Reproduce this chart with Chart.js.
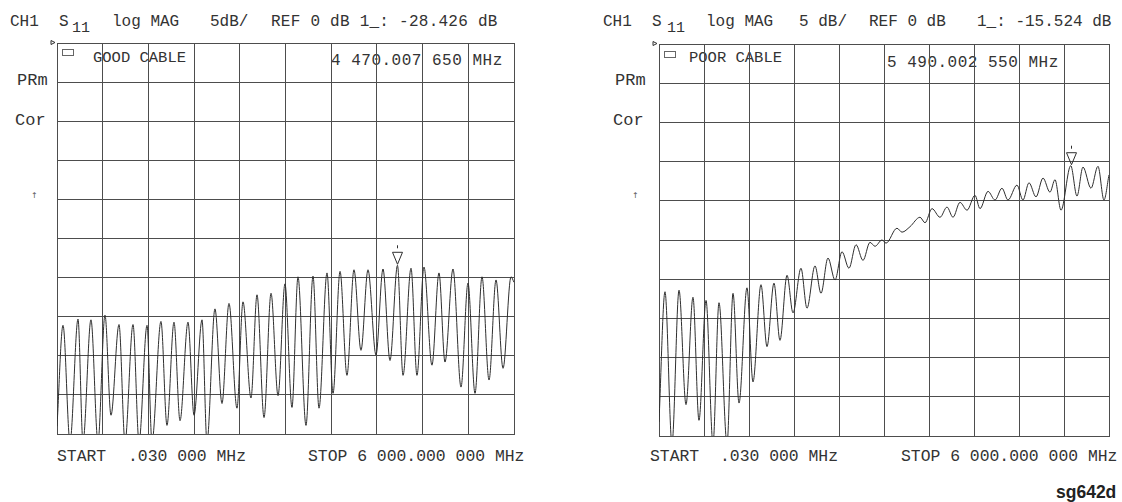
<!DOCTYPE html>
<html>
<head>
<meta charset="utf-8">
<script src="https://cdn.jsdelivr.net/npm/chart.js@4.4.0/dist/chart.umd.min.js"></script>
<style>
  body { margin: 0; background: #fff; }
  #page { position: relative; width: 1122px; height: 502px; overflow: hidden;
          font-family: "Liberation Mono", monospace; color: #333; }
  .t { position: absolute; white-space: pre; line-height: 1; font-size: 16px; }
  .sub { font-size: 15px; }
  .side { font-size: 17px; }
  .bot { font-size: 16.4px; }
  .lbl { font-size: 15.5px; }
  .arrow { font-family: "DejaVu Sans", sans-serif; font-size: 8px; color: #555; }
  .icon { position: absolute; width: 10px; height: 5px; border: 1px solid #666; }
  .wrap { position: absolute; }
  #sg { position: absolute; left: 1056px; top: 482px; font: bold 17.5px "Liberation Sans", Arial, sans-serif; color: #222; }
</style>
</head>
<body>
<div id="page">
  <!-- left panel text -->
  <span class="t" style="left:10px;top:14px">CH1</span>
  <span class="t" style="left:59px;top:14px">S</span>
  <span class="t sub" style="left:72px;top:21px">11</span>
  <span class="t" style="left:112px;top:14px">log MAG</span>
  <span class="t" style="left:210px;top:14px">5dB/</span>
  <span class="t" style="left:271px;top:14px;letter-spacing:0.25px">REF 0 dB 1_: -28.426 dB</span>
  <span class="t side" style="left:17px;top:72px">PRm</span>
  <span class="t side" style="left:15px;top:112px">Cor</span>
  <span class="t arrow" style="left:31px;top:192px">↑</span>
  <span class="icon" style="left:62px;top:49px"></span>
  <span class="t lbl" style="left:93px;top:51px">GOOD CABLE</span>
  <span class="t" style="left:331px;top:53px;letter-spacing:0.5px">4 470.007 650 MHz</span>
  <span class="t bot" style="left:57px;top:449px">START</span>
  <span class="t bot" style="left:128px;top:449px">.030 000 MHz</span>
  <span class="t bot" style="left:308px;top:449px">STOP 6 000.000 000 MHz</span>

  <!-- right panel text -->
  <span class="t" style="left:603px;top:14px">CH1</span>
  <span class="t" style="left:652px;top:14px">S</span>
  <span class="t sub" style="left:667px;top:21px">11</span>
  <span class="t" style="left:706px;top:14px">log MAG</span>
  <span class="t" style="left:799px;top:14px">5 dB/</span>
  <span class="t" style="left:869px;top:14px">REF 0 dB</span>
  <span class="t" style="left:977px;top:14px">1_: -15.524 dB</span>
  <span class="t side" style="left:615px;top:72px">PRm</span>
  <span class="t side" style="left:613px;top:112px">Cor</span>
  <span class="t arrow" style="left:632px;top:192px">↑</span>
  <span class="icon" style="left:664px;top:51px"></span>
  <span class="t lbl" style="left:689px;top:51px">POOR CABLE</span>
  <span class="t" style="left:887px;top:55px;letter-spacing:0.5px">5 490.002 550 MHz</span>
  <span class="t bot" style="left:650px;top:449px">START</span>
  <span class="t bot" style="left:720px;top:449px">.030 000 MHz</span>
  <span class="t bot" style="left:901px;top:449px">STOP 6 000.000 000 MHz</span>

  <span id="sg">sg642d</span>

  <div class="wrap" style="left:46px;top:38px;width:469px;height:397px"><canvas id="good"></canvas></div>
  <div class="wrap" style="left:648px;top:39px;width:462px;height:398px"><canvas id="poor"></canvas></div>
</div>

<script>
// sweep and display settings
const START_MHZ = 0.03;
const STOP_MHZ = 6000;
const REF_DB = 0;
const DB_PER_DIV = 5;
const DIVS = 10;

// S11 trace, good cable (MHz / dB)
const goodFreq = [0.03, 79, 171, 276, 341, 446, 538, 630, 709, 814, 893, 998, 1077, 1182, 1247,
  1365, 1444, 1536, 1615, 1720, 1799, 1904, 1969, 2074, 2166, 2258, 2363, 2442, 2547, 2626,
  2718, 2810, 2902, 2993, 3085, 3164, 3269, 3361, 3440, 3545, 3624, 3716, 3807, 3899, 3991,
  4083, 4188, 4280, 4372, 4470, 4543, 4648, 4726, 4818, 4923, 5015, 5094, 5199, 5304, 5396,
  5488, 5580, 5672, 5764, 5856, 5961, 6000];
const goodDb = [-49, -36.1, -51, -35.3, -51, -35.4, -51, -34.8, -47.6, -36.0, -51, -36.0, -51, -36.1, -51,
  -35.6, -48.9, -35.7, -48.3, -35.7, -47.6, -35.4, -51, -34.0, -46.1, -33.3, -46.7, -33.1, -45.4, -32.2,
  -47.9, -32.0, -45.1, -30.8, -46.6, -29.9, -48.9, -29.8, -46.7, -29.4, -44.8, -29.2, -42.5, -29.0, -39.3,
  -29.0, -39.9, -28.9, -40.6, -28.43, -42.5, -28.8, -42.5, -28.65, -41.2, -29.4, -40.8, -28.9, -44.0, -30.7,
  -44.8, -29.9, -43.1, -30.3, -41.6, -29.9, -30.6];

// S11 trace, poor cable
const poorFreq = [0.03, 80, 173, 267, 360, 453, 533, 627, 720, 800, 907, 987, 1067, 1173, 1253,
  1360, 1440, 1533, 1613, 1707, 1787, 1893, 1973, 2080, 2160, 2253, 2347, 2440, 2533, 2627,
  2720, 2813, 2880, 2973, 3027, 3173, 3240, 3347, 3480, 3547, 3640, 3747, 3840, 3920, 4013,
  4107, 4213, 4280, 4387, 4480, 4573, 4653, 4773, 4853, 4933, 5027, 5120, 5213, 5280, 5360,
  5490, 5573, 5653, 5760, 5853, 5933, 6000];
const poorDb = [-48.2, -31.6, -51, -31.4, -46.0, -32.3, -48.0, -32.7, -51, -33.0, -51, -31.8, -45.8, -31.1, -43.1,
  -30.7, -38.6, -30.5, -37.8, -29.5, -34.3, -28.6, -33.7, -28.3, -31.8, -27.3, -30.1, -26.5, -28.6, -25.6,
  -27.6, -25.3, -25.8, -25.0, -25.4, -23.5, -24.0, -23.3, -22.1, -22.8, -21.0, -22.1, -20.8, -22.1, -20.2,
  -21.2, -19.3, -21.0, -18.8, -19.9, -18.4, -19.9, -18.0, -19.9, -17.7, -19.5, -17.1, -18.9, -17.3, -21.2,
  -15.52, -19.4, -15.7, -18.4, -15.6, -19.9, -16.7];

// markers
const goodMarker = { freq: 4470.00765, db: -28.426 };
const poorMarker = { freq: 5490.00255, db: -15.524 };

const GRID = '#4d4d4d';
const INK = '#2e2e2e';

const markerPlugin = {
  id: 'marker',
  afterDatasetsDraw(chart, args, opts) {
    const { ctx, chartArea, scales: { x, y } } = chart;
    const px = Math.round(x.getPixelForValue(opts.freq)) + 0.5;
    const py = y.getPixelForValue(opts.db);
    ctx.save();
    ctx.strokeStyle = INK;
    ctx.lineWidth = 1;
    // marker triangle, tip on the trace
    ctx.beginPath();
    ctx.moveTo(px, py - 1);
    ctx.lineTo(px - 5, py - 13);
    ctx.lineTo(px + 5, py - 13);
    ctx.closePath();
    ctx.stroke();
    ctx.beginPath();
    ctx.moveTo(px, py - 20);
    ctx.lineTo(px, py - 17);
    ctx.stroke();
    // reference position arrow
    const ry = Math.round(y.getPixelForValue(REF_DB)) + 0.5;
    const lx = chartArea.left;
    ctx.beginPath();
    ctx.moveTo(lx - 6, ry - 3);
    ctx.lineTo(lx - 2, ry - 1);
    ctx.lineTo(lx - 6, ry + 1);
    ctx.closePath();
    ctx.stroke();
    ctx.restore();
  }
};

function makePanel(id, freq, db, marker) {
  const pts = freq.map((f, i) => ({ x: f, y: db[i] }));
  const axisGrid = { color: GRID, lineWidth: 1, drawTicks: false };
  return new Chart(document.getElementById(id), {
    type: 'line',
    data: {
      datasets: [{
        data: pts,
        borderColor: INK,
        borderWidth: 1,
        pointRadius: 0,
        cubicInterpolationMode: 'monotone',
        fill: false
      }]
    },
    options: {
      responsive: true,
      maintainAspectRatio: false,
      animation: false,
      layout: { padding: { left: 11, top: 5, right: 1, bottom: 1 } },
      plugins: {
        legend: { display: false },
        tooltip: { enabled: false },
        marker: marker
      },
      scales: {
        x: {
          type: 'linear', min: START_MHZ, max: STOP_MHZ,
          ticks: { display: false, stepSize: (STOP_MHZ - 0) / DIVS },
          grid: axisGrid,
          border: { color: GRID }
        },
        y: {
          min: REF_DB - DB_PER_DIV * DIVS, max: REF_DB,
          ticks: { display: false, stepSize: DB_PER_DIV },
          grid: axisGrid,
          border: { color: GRID }
        }
      }
    },
    plugins: [markerPlugin]
  });
}

makePanel('good', goodFreq, goodDb, goodMarker);
makePanel('poor', poorFreq, poorDb, poorMarker);
</script>
</body>
</html>
